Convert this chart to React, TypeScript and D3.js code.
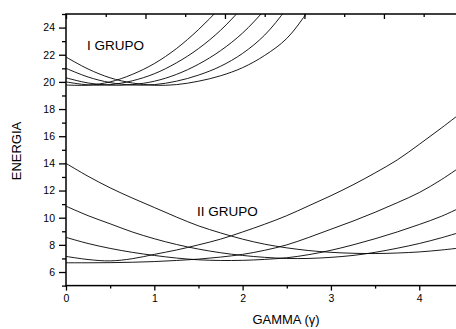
import { useEffect, useRef } from 'react';
import * as d3 from 'd3';

const width = 456;
const height = 329;
const plot = { left: 66, top: 14, right: 463.4, bottom: 285.6 };
const fontFamily = '"Liberation Sans", Arial, sans-serif';

// gamma grids
const gammaI = [0, 0.25, 0.5, 0.75, 1, 1.25, 1.5, 1.75, 2, 2.25, 2.5, 2.75, 3];
const gammaII = [0, 0.25, 0.5, 0.75, 1, 1.25, 1.5, 1.75, 2, 2.25, 2.5, 2.75, 3, 3.25, 3.5, 3.75, 4, 4.25, 4.5];

// I GRUPO energies
const grupoI1 = [19.77, 19.76, 20.0, 20.55, 21.35, 22.45, 23.85, 25.5, 27.4];
const grupoI2 = [20.0, 19.78, 19.8, 20.08, 20.6, 21.4, 22.45, 23.8, 25.5, 27.4];
const grupoI3 = [20.3, 19.92, 19.76, 19.8, 20.05, 20.55, 21.3, 22.3, 23.6, 25.3, 27.2];
const grupoI4 = [21.0, 20.36, 19.95, 19.77, 19.8, 20.05, 20.5, 21.15, 22.1, 23.45, 25.4, 27.6];
const grupoI5 = [21.83, 20.95, 20.3, 19.92, 19.75, 19.8, 20.05, 20.45, 21.05, 21.95, 23.2, 25.3, 27.8];

// II GRUPO energies
const grupoIIa = [14.0, 13.05, 12.2, 11.45, 10.75, 10.05, 9.4, 8.88, 8.42, 8.05, 7.78, 7.58, 7.45, 7.38, 7.36, 7.4, 7.48, 7.62, 7.8];
const grupoIIb = [10.85, 10.15, 9.55, 8.95, 8.45, 8.03, 7.69, 7.42, 7.22, 7.08, 7.0, 7.0, 7.08, 7.22, 7.45, 7.75, 8.1, 8.52, 9.0];
const grupoIIc = [8.55, 8.1, 7.74, 7.45, 7.22, 7.03, 6.9, 6.85, 6.86, 6.93, 7.05, 7.28, 7.6, 8.0, 8.45, 8.95, 9.5, 10.1, 10.85];
const grupoIId = [7.15, 6.92, 6.82, 6.98, 7.3, 7.62, 8.0, 8.42, 8.95, 9.52, 10.15, 10.88, 11.62, 12.42, 13.3, 14.25, 15.4, 16.6, 17.85];
const grupoIIe = [6.68, 6.68, 6.69, 6.72, 6.77, 6.85, 6.95, 7.1, 7.3, 7.6, 8.0, 8.55, 9.15, 9.75, 10.4, 11.1, 11.85, 12.8, 13.9];

// ticks
const yMajor = [6, 8, 10, 12, 14, 16, 18, 20, 22, 24];
const yMinor = [5, 7, 9, 11, 13, 15, 17, 19, 21, 23, 25];
const xMajor = [0, 1, 2, 3, 4];
const xMinor = [0.5, 1.5, 2.5, 3.5, 4.5];
const topMajor = [0, 0.9, 1.8, 2.7, 3.6, 4.5];
const topMinor = [0.45, 1.35, 2.25, 3.15, 4.05];

export default function App() {
  const ref = useRef<SVGSVGElement>(null);

  useEffect(() => {
    if (!ref.current) return;
    const svg = d3.select(ref.current);
    svg.selectAll('*').remove();

    const x = d3.scaleLinear().domain([0, 4.5]).range([plot.left, plot.right]);
    const y = d3.scaleLinear().domain([5, 25]).range([plot.bottom, plot.top]);

    svg.append('rect').attr('width', width).attr('height', height).attr('fill', '#fff');

    svg
      .append('clipPath')
      .attr('id', 'plot-clip')
      .append('rect')
      .attr('x', plot.left)
      .attr('y', plot.top)
      .attr('width', plot.right - plot.left)
      .attr('height', plot.bottom - plot.top);

    const line = d3
      .line<[number, number]>()
      .x((d) => x(d[0]))
      .y((d) => y(d[1]))
      .curve(d3.curveCatmullRom);

    const curves = svg
      .append('g')
      .attr('clip-path', 'url(#plot-clip)')
      .attr('fill', 'none')
      .attr('stroke', '#000')
      .attr('stroke-width', 0.9);

    [grupoI1, grupoI2, grupoI3, grupoI4, grupoI5].forEach((s) => {
      curves.append('path').attr('d', line(s.map((v, i) => [gammaI[i], v] as [number, number])));
    });
    [grupoIIa, grupoIIb, grupoIIc, grupoIId, grupoIIe].forEach((s) => {
      curves.append('path').attr('d', line(s.map((v, i) => [gammaII[i], v] as [number, number])));
    });

    // axes
    const styleAxis = (g: d3.Selection<SVGGElement, unknown, null, undefined>) => {
      g.select('.domain').remove();
      g.selectAll('line').attr('stroke', '#000').attr('stroke-width', 1.3);
      g.selectAll('text').attr('fill', '#000');
      g.attr('font-family', fontFamily).attr('font-size', 10.5);
    };

    svg
      .append('g')
      .attr('transform', `translate(${plot.left},0)`)
      .call(d3.axisLeft(y).tickValues(yMajor).tickSize(7).tickPadding(4).tickFormat(d3.format('d')))
      .call(styleAxis);
    svg
      .append('g')
      .attr('transform', `translate(${plot.left},0)`)
      .call(d3.axisLeft(y).tickValues(yMinor).tickSize(4).tickFormat(() => ''))
      .call(styleAxis);

    svg
      .append('g')
      .attr('transform', `translate(0,${plot.bottom})`)
      .call(d3.axisBottom(x).tickValues(xMajor).tickSize(5).tickPadding(4).tickFormat(d3.format('d')))
      .call(styleAxis);
    svg
      .append('g')
      .attr('transform', `translate(0,${plot.bottom})`)
      .call(d3.axisBottom(x).tickValues(xMinor).tickSize(3).tickFormat(() => ''))
      .call(styleAxis);

    // top axis, ticks pointing in
    svg
      .append('g')
      .attr('transform', `translate(0,${plot.top})`)
      .call(d3.axisTop(x).tickValues(topMajor).tickSize(-5).tickFormat(() => ''))
      .call(styleAxis);
    svg
      .append('g')
      .attr('transform', `translate(0,${plot.top})`)
      .call(d3.axisTop(x).tickValues(topMinor).tickSize(-3).tickFormat(() => ''))
      .call(styleAxis);

    // frame
    svg
      .append('rect')
      .attr('x', plot.left)
      .attr('y', plot.top)
      .attr('width', plot.right - plot.left)
      .attr('height', plot.bottom - plot.top)
      .attr('fill', 'none')
      .attr('stroke', '#000')
      .attr('stroke-width', 1.5);

    // labels
    svg
      .append('text')
      .attr('transform', `translate(21,151) rotate(-90)`)
      .attr('text-anchor', 'middle')
      .attr('font-family', fontFamily)
      .attr('font-size', 13)
      .text('ENERGIA');

    svg
      .append('text')
      .attr('x', 286)
      .attr('y', 324)
      .attr('text-anchor', 'middle')
      .attr('font-family', fontFamily)
      .attr('font-size', 13)
      .text('GAMMA (γ)');

    svg
      .append('text')
      .attr('x', 87)
      .attr('y', 50)
      .attr('font-family', fontFamily)
      .attr('font-size', 13.5)
      .text('I GRUPO');

    svg
      .append('text')
      .attr('x', 197)
      .attr('y', 216)
      .attr('font-family', fontFamily)
      .attr('font-size', 13.5)
      .text('II GRUPO');
  }, []);

  return (
    <svg
      ref={ref}
      width={width}
      height={height}
      style={{ position: 'absolute', left: 0, top: 0 }}
    />
  );
}
